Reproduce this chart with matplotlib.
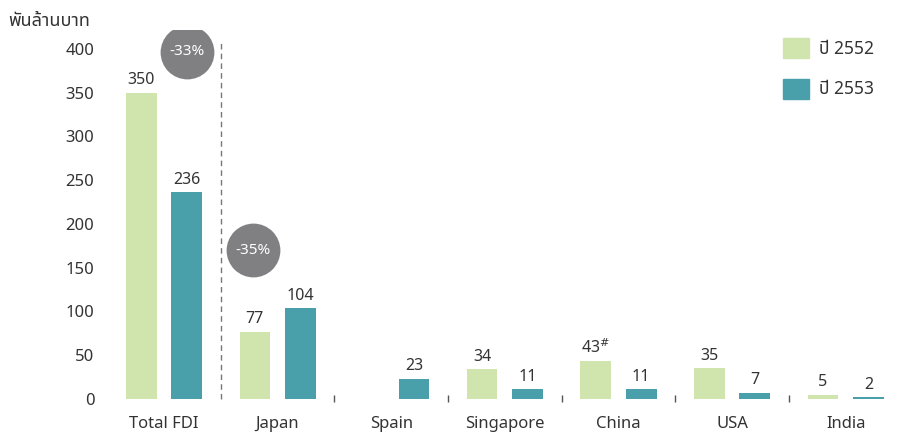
import numpy as np
import matplotlib
matplotlib.use("Agg")
import matplotlib.pyplot as plt
from matplotlib.patches import Patch
from matplotlib import font_manager

# ---- data ----
countries = ["Total FDI", "Japan", "Spain", "Singapore", "China", "USA", "India"]
fdi_2552 = [350, 77, np.nan, 34, 43, 35, 5]
fdi_2553 = [236, 104, 23, 11, 11, 7, 2]
labels_2552 = ["350", "77", "", "34", "43$^{\\#}$", "35", "5"]
labels_2553 = ["236", "104", "23", "11", "11", "7", "2"]
change_labels = ["-33%", "-35%"]
series_names = ["ปี 2552", "ปี 2553"]
y_unit = "พันล้านบาท"

light = "#cfe5ad"
dark = "#4aa0aa"
txt = "#333333"

names = {f.name for f in font_manager.fontManager.ttflist}
fams = [f for f in ["Noto Sans Thai", "Noto Sans Thai Looped", "Loma", "Garuda",
                    "Tlwg Typo", "Norasi", "DejaVu Sans"] if f in names]
plt.rcParams["font.family"] = fams

fig = plt.figure(figsize=(8.97, 4.32), dpi=100)
ax = fig.add_axes([100 / 897, 0.0623, 790 / 897, 0.869])

x = np.arange(len(countries))
off, w = 0.2, 0.27
ax.bar(x - off, fdi_2552, w, color=light)
ax.bar(x + off, fdi_2553, w, color=dark)

for i in range(len(countries)):
    if not np.isnan(fdi_2552[i]):
        ax.text(x[i] - off, fdi_2552[i] + 5, labels_2552[i], ha="center", va="bottom",
                fontsize=11.5, color=txt)
    ax.text(x[i] + off, fdi_2553[i] + 5, labels_2553[i], ha="center", va="bottom",
            fontsize=11.5, color=txt)

# separators
ax.vlines(x[0] + 0.5, 0, 410, colors="#777777", linestyles=(0, (4, 3)), lw=1)
ax.vlines(x[1:-1] + 0.5, -4, 5, colors="#555555", lw=1)

# change circles
circ_x = [x[0] + off, x[1] - 0.22]
circ_y = [397, 170]
ax.scatter(circ_x, circ_y, s=1500, color="#808083", zorder=3, linewidths=0)
for cx, cy, lab in zip(circ_x, circ_y, change_labels):
    ax.text(cx, cy, lab, ha="center", va="center", color="white", fontsize=11, zorder=4)

ax.set_xlim(-0.563, 6.39)
ax.set_ylim(-7, 422)
ax.set_yticks(range(0, 401, 50))
ax.set_xticks(x)
ax.set_xticklabels(countries, fontsize=12, color=txt)
ax.tick_params(axis="x", length=0, pad=8)
ax.tick_params(axis="y", length=0, pad=4, labelsize=12, labelcolor=txt)
for s in ax.spines.values():
    s.set_visible(False)

fig.text(8 / 897, 1 - 21 / 432, y_unit, fontsize=13, color=txt, va="center")

handles = [Patch(color=light), Patch(color=dark)]
ax.legend(handles, series_names, loc="upper right", bbox_to_anchor=(1.0, 1.02),
          frameon=False, fontsize=12.5, handlelength=1.5, handleheight=1.4,
          labelspacing=1.2, handletextpad=0.6, labelcolor=txt)

fig.savefig("out.png", dpi=100)
